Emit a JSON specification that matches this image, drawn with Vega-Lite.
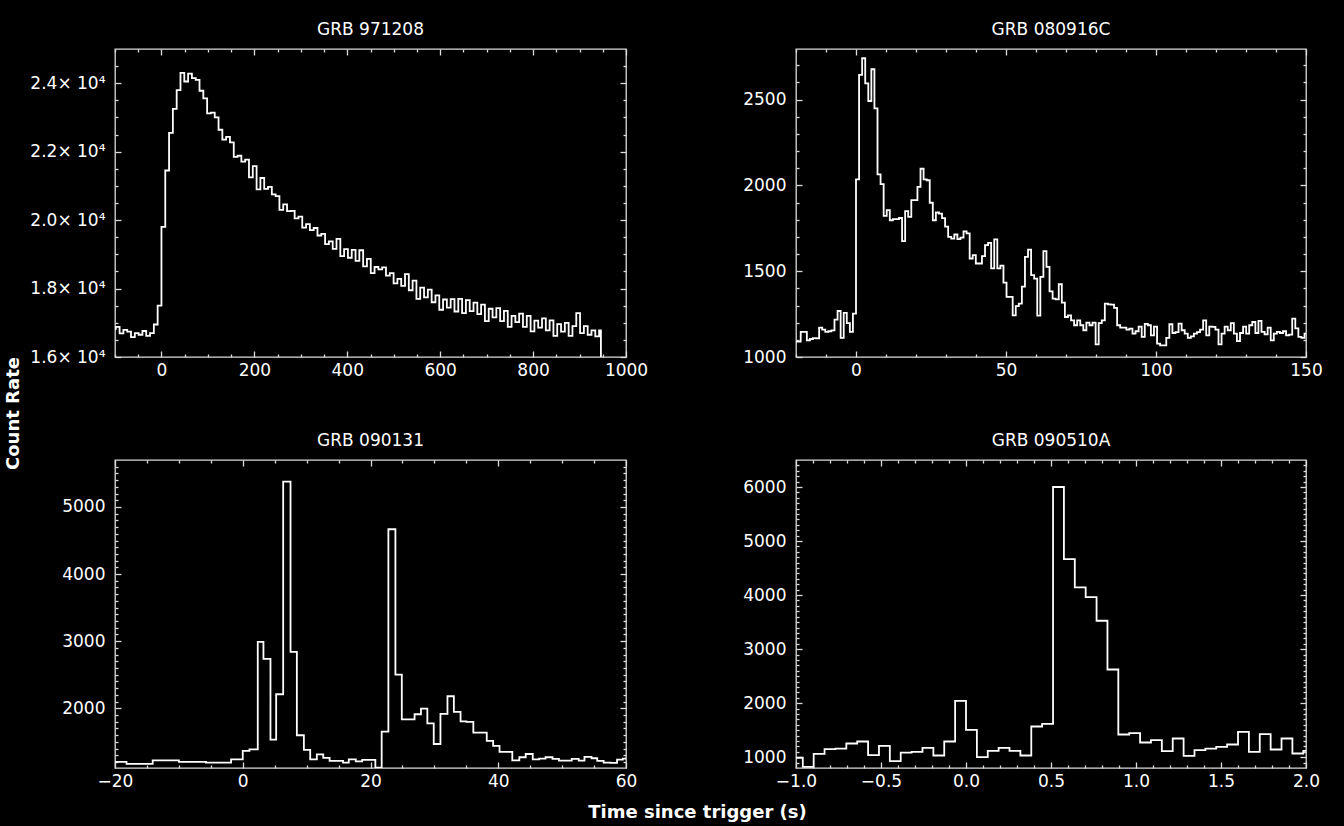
{
  "$schema": "https://vega.github.io/schema/vega-lite/v6.json",
  "background": "black",
  "padding": {"left": 3, "top": 20, "right": 21, "bottom": 6},
  "columns": 2,
  "spacing": {"row": 103, "column": 170},
  "bounds": "flush",
  "datasets": {
    "grb971208": [
      {"t": -106.496, "rate": 16820}, {"t": -98.304, "rate": 16880}, {"t": -90.112, "rate": 16690}, {"t": -81.92, "rate": 16790},
      {"t": -73.728, "rate": 16740}, {"t": -65.536, "rate": 16580}, {"t": -57.344, "rate": 16700}, {"t": -49.152, "rate": 16650},
      {"t": -40.96, "rate": 16760}, {"t": -32.768, "rate": 16620}, {"t": -24.576, "rate": 16700}, {"t": -16.384, "rate": 16950},
      {"t": -8.192, "rate": 17500}, {"t": 0, "rate": 19800}, {"t": 8.192, "rate": 21450}, {"t": 16.384, "rate": 22550},
      {"t": 24.576, "rate": 23250}, {"t": 32.768, "rate": 23800}, {"t": 40.96, "rate": 24300}, {"t": 49.152, "rate": 24050},
      {"t": 57.344, "rate": 24280}, {"t": 65.536, "rate": 24150}, {"t": 73.728, "rate": 24100}, {"t": 81.92, "rate": 23780},
      {"t": 90.112, "rate": 23560}, {"t": 98.304, "rate": 23120}, {"t": 106.496, "rate": 23140}, {"t": 114.688, "rate": 23000},
      {"t": 122.88, "rate": 22640}, {"t": 131.072, "rate": 22350}, {"t": 139.264, "rate": 22430}, {"t": 147.456, "rate": 22270},
      {"t": 155.648, "rate": 21850}, {"t": 163.84, "rate": 21880}, {"t": 172.032, "rate": 21710}, {"t": 180.224, "rate": 21770},
      {"t": 188.416, "rate": 21250}, {"t": 196.608, "rate": 21580}, {"t": 204.8, "rate": 20900}, {"t": 212.992, "rate": 21230},
      {"t": 221.184, "rate": 20910}, {"t": 229.376, "rate": 20970}, {"t": 237.568, "rate": 20750}, {"t": 245.76, "rate": 20700},
      {"t": 253.952, "rate": 20300}, {"t": 262.144, "rate": 20460}, {"t": 270.336, "rate": 20260}, {"t": 278.528, "rate": 20270},
      {"t": 286.72, "rate": 20050}, {"t": 294.912, "rate": 20100}, {"t": 303.104, "rate": 19780}, {"t": 311.296, "rate": 19880},
      {"t": 319.488, "rate": 19710}, {"t": 327.68, "rate": 19770}, {"t": 335.872, "rate": 19550}, {"t": 344.064, "rate": 19600},
      {"t": 352.256, "rate": 19300}, {"t": 360.448, "rate": 19380}, {"t": 368.64, "rate": 19160}, {"t": 376.832, "rate": 19450},
      {"t": 385.024, "rate": 18950}, {"t": 393.216, "rate": 19150}, {"t": 401.408, "rate": 18900}, {"t": 409.6, "rate": 19130},
      {"t": 417.792, "rate": 18810}, {"t": 425.984, "rate": 19120}, {"t": 434.176, "rate": 18650}, {"t": 442.368, "rate": 18870},
      {"t": 450.56, "rate": 18450}, {"t": 458.752, "rate": 18630}, {"t": 466.944, "rate": 18560}, {"t": 475.136, "rate": 18620},
      {"t": 483.328, "rate": 18380}, {"t": 491.52, "rate": 18450}, {"t": 499.712, "rate": 18150}, {"t": 507.904, "rate": 18280},
      {"t": 516.096, "rate": 18080}, {"t": 524.288, "rate": 18420}, {"t": 532.48, "rate": 17950}, {"t": 540.672, "rate": 18230},
      {"t": 548.864, "rate": 17700}, {"t": 557.056, "rate": 18030}, {"t": 565.248, "rate": 17740}, {"t": 573.44, "rate": 17970},
      {"t": 581.632, "rate": 17600}, {"t": 589.824, "rate": 17800}, {"t": 598.016, "rate": 17380}, {"t": 606.208, "rate": 17680},
      {"t": 614.4, "rate": 17440}, {"t": 622.592, "rate": 17690}, {"t": 630.784, "rate": 17330}, {"t": 638.976, "rate": 17700},
      {"t": 647.168, "rate": 17280}, {"t": 655.36, "rate": 17660}, {"t": 663.552, "rate": 17340}, {"t": 671.744, "rate": 17590},
      {"t": 679.936, "rate": 17250}, {"t": 688.128, "rate": 17530}, {"t": 696.32, "rate": 17050}, {"t": 704.512, "rate": 17410},
      {"t": 712.704, "rate": 17160}, {"t": 720.896, "rate": 17430}, {"t": 729.088, "rate": 17050}, {"t": 737.28, "rate": 17350},
      {"t": 745.472, "rate": 16880}, {"t": 753.664, "rate": 17200}, {"t": 761.856, "rate": 17020}, {"t": 770.048, "rate": 17270},
      {"t": 778.24, "rate": 16880}, {"t": 786.432, "rate": 17200}, {"t": 794.624, "rate": 16750}, {"t": 802.816, "rate": 17060},
      {"t": 811.008, "rate": 16860}, {"t": 819.2, "rate": 17130}, {"t": 827.392, "rate": 16780}, {"t": 835.584, "rate": 17070},
      {"t": 843.776, "rate": 16620}, {"t": 851.968, "rate": 16960}, {"t": 860.16, "rate": 16740}, {"t": 868.352, "rate": 17000},
      {"t": 876.544, "rate": 16620}, {"t": 884.736, "rate": 16900}, {"t": 892.928, "rate": 17280}, {"t": 901.12, "rate": 16700},
      {"t": 909.312, "rate": 16900}, {"t": 917.504, "rate": 16650}, {"t": 925.696, "rate": 16780}, {"t": 933.888, "rate": 16600},
      {"t": 942.08, "rate": 16780}, {"t": 946, "rate": 16000}
    ],
    "grb080916c": [
      {"t": -20.48, "rate": 1090}, {"t": -19.456, "rate": 1090}, {"t": -18.432, "rate": 1146}, {"t": -17.408, "rate": 1146},
      {"t": -16.384, "rate": 1097}, {"t": -15.36, "rate": 1105}, {"t": -14.336, "rate": 1110}, {"t": -13.312, "rate": 1108},
      {"t": -12.288, "rate": 1171}, {"t": -11.264, "rate": 1160}, {"t": -10.24, "rate": 1146}, {"t": -9.216, "rate": 1150},
      {"t": -8.192, "rate": 1155}, {"t": -7.168, "rate": 1218}, {"t": -6.144, "rate": 1268}, {"t": -5.12, "rate": 1111},
      {"t": -4.096, "rate": 1257}, {"t": -3.072, "rate": 1198}, {"t": -2.048, "rate": 1146}, {"t": -1.024, "rate": 1253},
      {"t": 0, "rate": 2035}, {"t": 1.024, "rate": 2644}, {"t": 2.048, "rate": 2741}, {"t": 3.072, "rate": 2595},
      {"t": 4.096, "rate": 2492}, {"t": 5.12, "rate": 2677}, {"t": 6.144, "rate": 2449}, {"t": 7.168, "rate": 2064},
      {"t": 8.192, "rate": 2008}, {"t": 9.216, "rate": 1823}, {"t": 10.24, "rate": 1856}, {"t": 11.264, "rate": 1797},
      {"t": 12.288, "rate": 1803}, {"t": 13.312, "rate": 1803}, {"t": 14.336, "rate": 1810}, {"t": 15.36, "rate": 1675},
      {"t": 16.384, "rate": 1850}, {"t": 17.408, "rate": 1817}, {"t": 18.432, "rate": 1914}, {"t": 19.456, "rate": 1914},
      {"t": 20.48, "rate": 1992}, {"t": 21.504, "rate": 2097}, {"t": 22.528, "rate": 2035}, {"t": 23.552, "rate": 2030},
      {"t": 24.576, "rate": 1899}, {"t": 25.6, "rate": 1797}, {"t": 26.624, "rate": 1842}, {"t": 27.648, "rate": 1835},
      {"t": 28.672, "rate": 1809}, {"t": 29.696, "rate": 1760}, {"t": 30.72, "rate": 1700}, {"t": 31.744, "rate": 1690},
      {"t": 32.768, "rate": 1714}, {"t": 33.792, "rate": 1687}, {"t": 34.816, "rate": 1696}, {"t": 35.84, "rate": 1732},
      {"t": 36.864, "rate": 1720}, {"t": 37.888, "rate": 1574}, {"t": 38.912, "rate": 1594}, {"t": 39.936, "rate": 1545},
      {"t": 40.96, "rate": 1545}, {"t": 41.984, "rate": 1588}, {"t": 43.008, "rate": 1652}, {"t": 44.032, "rate": 1665},
      {"t": 45.056, "rate": 1516}, {"t": 46.08, "rate": 1685}, {"t": 47.104, "rate": 1516}, {"t": 48.128, "rate": 1533},
      {"t": 49.152, "rate": 1434}, {"t": 50.176, "rate": 1350}, {"t": 51.2, "rate": 1350}, {"t": 52.224, "rate": 1243},
      {"t": 53.248, "rate": 1296}, {"t": 54.272, "rate": 1311}, {"t": 55.296, "rate": 1410}, {"t": 56.32, "rate": 1583},
      {"t": 57.344, "rate": 1626}, {"t": 58.368, "rate": 1477}, {"t": 59.392, "rate": 1457}, {"t": 60.416, "rate": 1241},
      {"t": 61.44, "rate": 1467}, {"t": 62.464, "rate": 1617}, {"t": 63.488, "rate": 1525}, {"t": 64.512, "rate": 1383},
      {"t": 65.536, "rate": 1340}, {"t": 66.56, "rate": 1336}, {"t": 67.584, "rate": 1424}, {"t": 68.608, "rate": 1317},
      {"t": 69.632, "rate": 1233}, {"t": 70.656, "rate": 1243}, {"t": 71.68, "rate": 1214}, {"t": 72.704, "rate": 1185},
      {"t": 73.728, "rate": 1214}, {"t": 74.752, "rate": 1185}, {"t": 75.776, "rate": 1156}, {"t": 76.8, "rate": 1200},
      {"t": 77.824, "rate": 1185}, {"t": 78.848, "rate": 1200}, {"t": 79.872, "rate": 1074}, {"t": 80.896, "rate": 1198},
      {"t": 81.92, "rate": 1214}, {"t": 82.944, "rate": 1311}, {"t": 83.968, "rate": 1307}, {"t": 84.992, "rate": 1305},
      {"t": 86.016, "rate": 1286}, {"t": 87.04, "rate": 1185}, {"t": 88.064, "rate": 1171}, {"t": 89.088, "rate": 1171},
      {"t": 90.112, "rate": 1160}, {"t": 91.136, "rate": 1165}, {"t": 92.16, "rate": 1136}, {"t": 93.184, "rate": 1150},
      {"t": 94.208, "rate": 1177}, {"t": 95.232, "rate": 1117}, {"t": 96.256, "rate": 1193}, {"t": 97.28, "rate": 1185},
      {"t": 98.304, "rate": 1126}, {"t": 99.328, "rate": 1177}, {"t": 100.352, "rate": 1078}, {"t": 101.376, "rate": 1068},
      {"t": 102.4, "rate": 1068}, {"t": 103.424, "rate": 1111}, {"t": 104.448, "rate": 1191}, {"t": 105.472, "rate": 1140},
      {"t": 106.496, "rate": 1145}, {"t": 107.52, "rate": 1195}, {"t": 108.544, "rate": 1156}, {"t": 109.568, "rate": 1136},
      {"t": 110.592, "rate": 1111}, {"t": 111.616, "rate": 1120}, {"t": 112.64, "rate": 1136}, {"t": 113.664, "rate": 1145},
      {"t": 114.688, "rate": 1159}, {"t": 115.712, "rate": 1214}, {"t": 116.736, "rate": 1126}, {"t": 117.76, "rate": 1177},
      {"t": 118.784, "rate": 1175}, {"t": 119.808, "rate": 1160}, {"t": 120.832, "rate": 1074}, {"t": 121.856, "rate": 1136},
      {"t": 122.88, "rate": 1177}, {"t": 123.904, "rate": 1156}, {"t": 124.928, "rate": 1198}, {"t": 125.952, "rate": 1136},
      {"t": 126.976, "rate": 1093}, {"t": 128.0, "rate": 1140}, {"t": 129.024, "rate": 1177}, {"t": 130.048, "rate": 1136},
      {"t": 131.072, "rate": 1185}, {"t": 132.096, "rate": 1204}, {"t": 133.12, "rate": 1140}, {"t": 134.144, "rate": 1210},
      {"t": 135.168, "rate": 1146}, {"t": 136.192, "rate": 1132}, {"t": 137.216, "rate": 1171}, {"t": 138.24, "rate": 1097},
      {"t": 139.264, "rate": 1136}, {"t": 140.288, "rate": 1146}, {"t": 141.312, "rate": 1140}, {"t": 142.336, "rate": 1150},
      {"t": 143.36, "rate": 1126}, {"t": 144.384, "rate": 1130}, {"t": 145.408, "rate": 1224}, {"t": 146.432, "rate": 1167},
      {"t": 147.456, "rate": 1117}, {"t": 148.48, "rate": 1111}, {"t": 149.504, "rate": 1136}, {"t": 150.528, "rate": 1136}
    ],
    "grb090131": [
      {"t": -21, "rate": 1200}, {"t": -18.2, "rate": 1170}, {"t": -14.1, "rate": 1225}, {"t": -10.0, "rate": 1200},
      {"t": -5.75, "rate": 1190}, {"t": -1.83, "rate": 1240}, {"t": 0, "rate": 1364}, {"t": 1.05, "rate": 1389},
      {"t": 2.35, "rate": 2989}, {"t": 3.24, "rate": 2735}, {"t": 4.34, "rate": 1533}, {"t": 5.23, "rate": 2209},
      {"t": 6.33, "rate": 5378}, {"t": 7.48, "rate": 2840}, {"t": 8.47, "rate": 1598}, {"t": 9.57, "rate": 1379},
      {"t": 10.56, "rate": 1240}, {"t": 11.6, "rate": 1314}, {"t": 12.6, "rate": 1260}, {"t": 13.6, "rate": 1215},
      {"t": 15.7, "rate": 1190}, {"t": 16.6, "rate": 1240}, {"t": 17.7, "rate": 1210}, {"t": 18.7, "rate": 1230},
      {"t": 20.76, "rate": 1116}, {"t": 21.75, "rate": 1652}, {"t": 22.8, "rate": 4668}, {"t": 23.9, "rate": 2502},
      {"t": 24.9, "rate": 1836}, {"t": 26.9, "rate": 1911}, {"t": 27.9, "rate": 1995}, {"t": 28.9, "rate": 1776},
      {"t": 29.9, "rate": 1468}, {"t": 30.95, "rate": 1916}, {"t": 32.05, "rate": 2179}, {"t": 33.05, "rate": 1945},
      {"t": 34.1, "rate": 1806}, {"t": 35.0, "rate": 1796}, {"t": 36.1, "rate": 1637}, {"t": 38.2, "rate": 1513},
      {"t": 39.2, "rate": 1439}, {"t": 40.2, "rate": 1349}, {"t": 42.2, "rate": 1225}, {"t": 43.3, "rate": 1270},
      {"t": 44.3, "rate": 1319}, {"t": 45.4, "rate": 1240}, {"t": 46.4, "rate": 1250}, {"t": 47.4, "rate": 1270},
      {"t": 48.5, "rate": 1245}, {"t": 49.5, "rate": 1220}, {"t": 51.5, "rate": 1245}, {"t": 52.6, "rate": 1220},
      {"t": 53.5, "rate": 1275}, {"t": 54.6, "rate": 1255}, {"t": 55.5, "rate": 1215}, {"t": 56.5, "rate": 1190},
      {"t": 57.6, "rate": 1185}, {"t": 58.6, "rate": 1235}, {"t": 59.5, "rate": 1250}, {"t": 61, "rate": 1250}
    ],
    "grb090510a": [
      {"t": -1.024, "rate": 990}, {"t": -0.96, "rate": 820}, {"t": -0.896, "rate": 1062}, {"t": -0.832, "rate": 1148},
      {"t": -0.768, "rate": 1160}, {"t": -0.704, "rate": 1253}, {"t": -0.64, "rate": 1290}, {"t": -0.576, "rate": 1037},
      {"t": -0.512, "rate": 1210}, {"t": -0.448, "rate": 926}, {"t": -0.384, "rate": 1086}, {"t": -0.32, "rate": 1099},
      {"t": -0.256, "rate": 1173}, {"t": -0.192, "rate": 1031}, {"t": -0.128, "rate": 1290}, {"t": -0.064, "rate": 2043},
      {"t": 0, "rate": 1506}, {"t": 0.064, "rate": 1000}, {"t": 0.128, "rate": 1117}, {"t": 0.192, "rate": 1173},
      {"t": 0.256, "rate": 1117}, {"t": 0.32, "rate": 1031}, {"t": 0.384, "rate": 1568}, {"t": 0.448, "rate": 1617},
      {"t": 0.512, "rate": 6000}, {"t": 0.576, "rate": 4667}, {"t": 0.64, "rate": 4142}, {"t": 0.704, "rate": 3963},
      {"t": 0.768, "rate": 3525}, {"t": 0.832, "rate": 2623}, {"t": 0.896, "rate": 1420}, {"t": 0.96, "rate": 1444},
      {"t": 1.024, "rate": 1272}, {"t": 1.088, "rate": 1315}, {"t": 1.152, "rate": 1111}, {"t": 1.216, "rate": 1346},
      {"t": 1.28, "rate": 1025}, {"t": 1.344, "rate": 1130}, {"t": 1.408, "rate": 1160}, {"t": 1.472, "rate": 1191},
      {"t": 1.536, "rate": 1235}, {"t": 1.6, "rate": 1469}, {"t": 1.664, "rate": 1099}, {"t": 1.728, "rate": 1426},
      {"t": 1.792, "rate": 1142}, {"t": 1.856, "rate": 1346}, {"t": 1.92, "rate": 1068}, {"t": 1.984, "rate": 1117},
      {"t": 2.048, "rate": 1117}
    ]
  },
  "concat": [
    {
      "title": "GRB 971208",
      "width": 511,
      "height": 308,
      "data": {"name": "grb971208"},
      "layer": [
        {
          "mark": {"type": "line", "interpolate": "step-after", "color": "white", "strokeWidth": 1.8, "clip": true},
          "encoding": {
            "x": {"field": "t", "type": "quantitative", "scale": {"domain": [-100, 1000], "nice": false, "zero": false},
                  "axis": {"orient": "bottom", "values": [0, 200, 400, 600, 800, 1000], "format": "d", "tickSize": -6, "labelPadding": 11, "title": null}},
            "y": {"field": "rate", "type": "quantitative", "scale": {"domain": [16000, 25000], "nice": false, "zero": false},
                  "axis": {"orient": "left", "values": [16000, 18000, 20000, 22000, 24000], "tickSize": -6, "labelPadding": 16,
                           "labelExpr": "format(datum.value / 10000, '.1f') + '× 10⁴'",
                           "title": "Count Rate", "titleX": -102, "titleY": 364, "titleAngle": 270, "titleAlign": "center", "titleBaseline": "middle"}}
          }
        },
        {
          "mark": {"type": "line", "opacity": 0},
          "encoding": {
            "x": {"field": "t", "type": "quantitative", "axis": {"orient": "top", "values": [0, 200, 400, 600, 800, 1000], "tickSize": -6, "labels": false, "title": null}},
            "y": {"field": "rate", "type": "quantitative", "axis": {"orient": "right", "values": [16000, 18000, 20000, 22000, 24000], "tickSize": -6, "labels": false, "title": null}}
          }
        },
        {
          "mark": {"type": "line", "opacity": 0},
          "encoding": {
            "x": {"field": "t", "type": "quantitative", "axis": {"orient": "bottom", "values": [-100, -50, 50, 100, 150, 250, 300, 350, 450, 500, 550, 650, 700, 750, 850, 900, 950], "tickSize": -3, "labels": false, "title": null}},
            "y": {"field": "rate", "type": "quantitative", "axis": {"orient": "left", "values": [16500, 17000, 17500, 18500, 19000, 19500, 20500, 21000, 21500, 22500, 23000, 23500, 24500], "tickSize": -3, "labels": false, "title": null}}
          }
        },
        {
          "mark": {"type": "line", "opacity": 0},
          "encoding": {
            "x": {"field": "t", "type": "quantitative", "axis": {"orient": "top", "values": [-100, -50, 50, 100, 150, 250, 300, 350, 450, 500, 550, 650, 700, 750, 850, 900, 950], "tickSize": -3, "labels": false, "title": null}},
            "y": {"field": "rate", "type": "quantitative", "axis": {"orient": "right", "values": [16500, 17000, 17500, 18500, 19000, 19500, 20500, 21000, 21500, 22500, 23000, 23500, 24500], "tickSize": -3, "labels": false, "title": null}}
          }
        }
      ],
      "resolve": {"axis": {"x": "independent", "y": "independent"}}
    },
    {
      "title": "GRB 080916C",
      "width": 510,
      "height": 308,
      "data": {"name": "grb080916c"},
      "layer": [
        {
          "mark": {"type": "line", "interpolate": "step-after", "color": "white", "strokeWidth": 1.8, "clip": true},
          "encoding": {
            "x": {"field": "t", "type": "quantitative", "scale": {"domain": [-20, 150], "nice": false, "zero": false},
                  "axis": {"orient": "bottom", "values": [0, 50, 100, 150], "format": "d", "tickSize": -6, "labelPadding": 11, "title": null}},
            "y": {"field": "rate", "type": "quantitative", "scale": {"domain": [1000, 2795], "nice": false, "zero": false},
                  "axis": {"orient": "left", "values": [1000, 1500, 2000, 2500], "format": "d", "tickSize": -6, "labelPadding": 16, "title": null}}
          }
        },
        {
          "mark": {"type": "line", "opacity": 0},
          "encoding": {
            "x": {"field": "t", "type": "quantitative", "axis": {"orient": "top", "values": [0, 50, 100, 150], "tickSize": -6, "labels": false, "title": null}},
            "y": {"field": "rate", "type": "quantitative", "axis": {"orient": "right", "values": [1000, 1500, 2000, 2500], "tickSize": -6, "labels": false, "title": null}}
          }
        },
        {
          "mark": {"type": "line", "opacity": 0},
          "encoding": {
            "x": {"field": "t", "type": "quantitative", "axis": {"orient": "bottom", "values": [-20, -10, 10, 20, 30, 40, 60, 70, 80, 90, 110, 120, 130, 140], "tickSize": -3, "labels": false, "title": null}},
            "y": {"field": "rate", "type": "quantitative", "axis": {"orient": "left", "values": [1100, 1200, 1300, 1400, 1600, 1700, 1800, 1900, 2100, 2200, 2300, 2400, 2600, 2700], "tickSize": -3, "labels": false, "title": null}}
          }
        },
        {
          "mark": {"type": "line", "opacity": 0},
          "encoding": {
            "x": {"field": "t", "type": "quantitative", "axis": {"orient": "top", "values": [-20, -10, 10, 20, 30, 40, 60, 70, 80, 90, 110, 120, 130, 140], "tickSize": -3, "labels": false, "title": null}},
            "y": {"field": "rate", "type": "quantitative", "axis": {"orient": "right", "values": [1100, 1200, 1300, 1400, 1600, 1700, 1800, 1900, 2100, 2200, 2300, 2400, 2600, 2700], "tickSize": -3, "labels": false, "title": null}}
          }
        }
      ],
      "resolve": {"axis": {"x": "independent", "y": "independent"}}
    },
    {
      "title": "GRB 090131",
      "width": 511,
      "height": 308,
      "data": {"name": "grb090131"},
      "layer": [
        {
          "mark": {"type": "line", "interpolate": "step-after", "color": "white", "strokeWidth": 1.8, "clip": true},
          "encoding": {
            "x": {"field": "t", "type": "quantitative", "scale": {"domain": [-20, 60], "nice": false, "zero": false},
                  "axis": {"orient": "bottom", "values": [-20, 0, 20, 40, 60], "format": "d", "tickSize": -6, "labelPadding": 11,
                           "title": "Time since trigger (s)", "titleX": 582, "titleY": 44, "titleAlign": "center", "titleBaseline": "middle"}},
            "y": {"field": "rate", "type": "quantitative", "scale": {"domain": [1110, 5700], "nice": false, "zero": false},
                  "axis": {"orient": "left", "values": [2000, 3000, 4000, 5000], "format": "d", "tickSize": -6, "labelPadding": 16, "title": null}}
          }
        },
        {
          "mark": {"type": "line", "opacity": 0},
          "encoding": {
            "x": {"field": "t", "type": "quantitative", "axis": {"orient": "top", "values": [-20, 0, 20, 40, 60], "tickSize": -6, "labels": false, "title": null}},
            "y": {"field": "rate", "type": "quantitative", "axis": {"orient": "right", "values": [2000, 3000, 4000, 5000], "tickSize": -6, "labels": false, "title": null}}
          }
        },
        {
          "mark": {"type": "line", "opacity": 0},
          "encoding": {
            "x": {"field": "t", "type": "quantitative", "axis": {"orient": "bottom", "values": [-15, -10, -5, 5, 10, 15, 25, 30, 35, 45, 50, 55], "tickSize": -3, "labels": false, "title": null}},
            "y": {"field": "rate", "type": "quantitative", "axis": {"orient": "left", "values": [1200, 1300, 1400, 1500, 1600, 1700, 1800, 1900, 2100, 2200, 2300, 2400, 2500, 2600, 2700, 2800, 2900, 3100, 3200, 3300, 3400, 3500, 3600, 3700, 3800, 3900, 4100, 4200, 4300, 4400, 4500, 4600, 4700, 4800, 4900, 5100, 5200, 5300, 5400, 5500, 5600], "tickSize": -3, "labels": false, "title": null}}
          }
        },
        {
          "mark": {"type": "line", "opacity": 0},
          "encoding": {
            "x": {"field": "t", "type": "quantitative", "axis": {"orient": "top", "values": [-15, -10, -5, 5, 10, 15, 25, 30, 35, 45, 50, 55], "tickSize": -3, "labels": false, "title": null}},
            "y": {"field": "rate", "type": "quantitative", "axis": {"orient": "right", "values": [1200, 1300, 1400, 1500, 1600, 1700, 1800, 1900, 2100, 2200, 2300, 2400, 2500, 2600, 2700, 2800, 2900, 3100, 3200, 3300, 3400, 3500, 3600, 3700, 3800, 3900, 4100, 4200, 4300, 4400, 4500, 4600, 4700, 4800, 4900, 5100, 5200, 5300, 5400, 5500, 5600], "tickSize": -3, "labels": false, "title": null}}
          }
        }
      ],
      "resolve": {"axis": {"x": "independent", "y": "independent"}}
    },
    {
      "title": "GRB 090510A",
      "width": 510,
      "height": 308,
      "data": {"name": "grb090510a"},
      "layer": [
        {
          "mark": {"type": "line", "interpolate": "step-after", "color": "white", "strokeWidth": 1.8, "clip": true},
          "encoding": {
            "x": {"field": "t", "type": "quantitative", "scale": {"domain": [-1, 2], "nice": false, "zero": false},
                  "axis": {"orient": "bottom", "values": [-1, -0.5, 0, 0.5, 1, 1.5, 2], "format": ".1f", "tickSize": -6, "labelPadding": 11, "title": null}},
            "y": {"field": "rate", "type": "quantitative", "scale": {"domain": [800, 6500], "nice": false, "zero": false},
                  "axis": {"orient": "left", "values": [1000, 2000, 3000, 4000, 5000, 6000], "format": "d", "tickSize": -6, "labelPadding": 16, "title": null}}
          }
        },
        {
          "mark": {"type": "line", "opacity": 0},
          "encoding": {
            "x": {"field": "t", "type": "quantitative", "axis": {"orient": "top", "values": [-1, -0.5, 0, 0.5, 1, 1.5, 2], "tickSize": -6, "labels": false, "title": null}},
            "y": {"field": "rate", "type": "quantitative", "axis": {"orient": "right", "values": [1000, 2000, 3000, 4000, 5000, 6000], "tickSize": -6, "labels": false, "title": null}}
          }
        },
        {
          "mark": {"type": "line", "opacity": 0},
          "encoding": {
            "x": {"field": "t", "type": "quantitative", "axis": {"orient": "bottom", "values": [-0.9, -0.8, -0.7, -0.6, -0.4, -0.3, -0.2, -0.1, 0.1, 0.2, 0.3, 0.4, 0.6, 0.7, 0.8, 0.9, 1.1, 1.2, 1.3, 1.4, 1.6, 1.7, 1.8, 1.9], "tickSize": -3, "labels": false, "title": null}},
            "y": {"field": "rate", "type": "quantitative", "axis": {"orient": "left", "values": [900, 1100, 1200, 1300, 1400, 1500, 1600, 1700, 1800, 1900, 2100, 2200, 2300, 2400, 2500, 2600, 2700, 2800, 2900, 3100, 3200, 3300, 3400, 3500, 3600, 3700, 3800, 3900, 4100, 4200, 4300, 4400, 4500, 4600, 4700, 4800, 4900, 5100, 5200, 5300, 5400, 5500, 5600, 5700, 5800, 5900, 6100, 6200, 6300, 6400], "tickSize": -3, "labels": false, "title": null}}
          }
        },
        {
          "mark": {"type": "line", "opacity": 0},
          "encoding": {
            "x": {"field": "t", "type": "quantitative", "axis": {"orient": "top", "values": [-0.9, -0.8, -0.7, -0.6, -0.4, -0.3, -0.2, -0.1, 0.1, 0.2, 0.3, 0.4, 0.6, 0.7, 0.8, 0.9, 1.1, 1.2, 1.3, 1.4, 1.6, 1.7, 1.8, 1.9], "tickSize": -3, "labels": false, "title": null}},
            "y": {"field": "rate", "type": "quantitative", "axis": {"orient": "right", "values": [900, 1100, 1200, 1300, 1400, 1500, 1600, 1700, 1800, 1900, 2100, 2200, 2300, 2400, 2500, 2600, 2700, 2800, 2900, 3100, 3200, 3300, 3400, 3500, 3600, 3700, 3800, 3900, 4100, 4200, 4300, 4400, 4500, 4600, 4700, 4800, 4900, 5100, 5200, 5300, 5400, 5500, 5600, 5700, 5800, 5900, 6100, 6200, 6300, 6400], "tickSize": -3, "labels": false, "title": null}}
          }
        }
      ],
      "resolve": {"axis": {"x": "independent", "y": "independent"}}
    }
  ],
  "config": {
    "view": {"stroke": "#dcdcdc", "strokeWidth": 1.3},
    "title": {"color": "white", "font": "DejaVu Sans", "fontSize": 17, "fontWeight": "normal", "anchor": "middle", "offset": 9},
    "axis": {
      "domain": false,
      "grid": false,
      "labelColor": "white",
      "labelFont": "DejaVu Sans",
      "labelFontSize": 17,
      "labelFlush": false,
      "labelOverlap": false,
      "tickColor": "#dcdcdc",
      "tickWidth": 1.3,
      "titleColor": "white",
      "titleFont": "DejaVu Sans",
      "titleFontWeight": "bold",
      "titleFontSize": 18
    }
  }
}
